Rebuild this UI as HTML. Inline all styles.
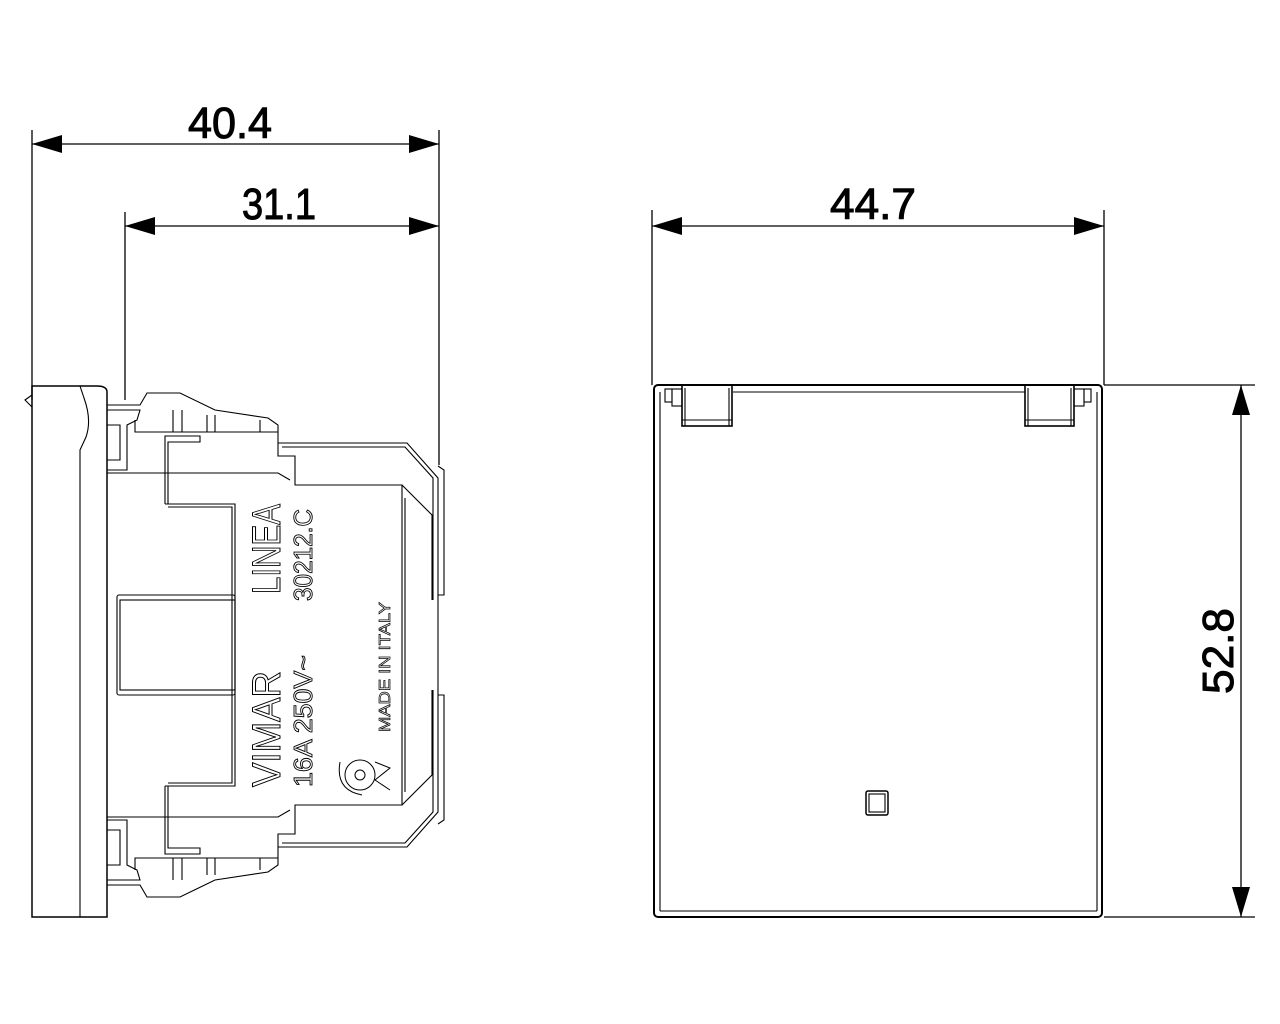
<!DOCTYPE html>
<html><head><meta charset="utf-8"><style>
html,body{margin:0;padding:0;background:#fff;}
svg{display:block;}
text{font-family:"Liberation Sans",sans-serif;}
</style></head><body>
<svg width="1280" height="1024" viewBox="0 0 1280 1024" xmlns="http://www.w3.org/2000/svg">
<g stroke="#000" stroke-width="1.3" fill="none">
 <line x1="32" y1="130" x2="32" y2="400"/>
 <line x1="439" y1="130" x2="439" y2="465"/>
 <line x1="32" y1="144" x2="439" y2="144"/>
 <line x1="125" y1="212" x2="125" y2="400"/>
 <line x1="125" y1="226" x2="439" y2="226"/>
 <line x1="652" y1="210" x2="652" y2="385"/>
 <line x1="1104" y1="210" x2="1104" y2="385"/>
 <line x1="652" y1="226" x2="1104" y2="226"/>
 <line x1="1104" y1="385" x2="1255" y2="385"/>
 <line x1="1104" y1="917" x2="1255" y2="917"/>
 <line x1="1241" y1="385" x2="1241" y2="917"/>
</g>
<g fill="#000">
 <polygon points="32,144 62,135 62,153"/>
 <polygon points="439,144 409,135 409,153"/>
 <polygon points="125,226 155,217 155,235"/>
 <polygon points="439,226 409,217 409,235"/>
 <polygon points="652,226 682,217 682,235"/>
 <polygon points="1104,226 1074,217 1074,235"/>
 <polygon points="1241,385 1232,415 1250,415"/>
 <polygon points="1241,917 1232,887 1250,887"/>
</g>
<g font-size="44" fill="#000" stroke="#000" stroke-width="1" text-anchor="middle">
 <text x="230" y="138" textLength="84" lengthAdjust="spacingAndGlyphs">40.4</text>
 <text x="279" y="219" textLength="74" lengthAdjust="spacingAndGlyphs">31.1</text>
 <text x="873" y="219" textLength="86" lengthAdjust="spacingAndGlyphs">44.7</text>
 <text transform="translate(1233,651) rotate(-90)" textLength="86" lengthAdjust="spacingAndGlyphs">52.8</text>
</g>

<g stroke="#000" fill="none" stroke-width="1.1">
 <rect x="654" y="385" width="448" height="532" rx="4" stroke-width="2"/>
 <line x1="660" y1="392" x2="660" y2="911"/>
 <line x1="1097" y1="392" x2="1097" y2="911"/>
 <line x1="660" y1="911" x2="1097" y2="911"/>
 <line x1="733" y1="392" x2="1025" y2="392"/>
 <rect x="682" y="385" width="50" height="41" stroke-width="1.6"/>
 <line x1="685" y1="388" x2="685" y2="426"/><line x1="729" y1="388" x2="729" y2="426"/>
 <line x1="682" y1="420" x2="732" y2="420"/>
 <rect x="1025" y="385" width="49" height="41" stroke-width="1.6"/>
 <line x1="1028" y1="388" x2="1028" y2="426"/><line x1="1071" y1="388" x2="1071" y2="426"/>
 <line x1="1025" y1="420" x2="1074" y2="420"/>
 <rect x="672" y="389" width="10" height="17"/><rect x="665" y="389" width="7" height="13"/>
 <rect x="1074" y="389" width="10" height="17"/><rect x="1084" y="389" width="7" height="13"/>
 <rect x="866" y="791" width="22" height="24" rx="2" stroke-width="1.5"/>
 <rect x="869" y="794" width="16" height="18"/>
</g>

<g stroke="#000" fill="none" stroke-width="1.1">
 <path d="M32,386 L97,386 Q107,386 107,392 L107,917 L32,917 Z" stroke-width="1.5"/>
 <path d="M80,917 L80,450 L86,437 Q92,420 84,398 L80,386"/>
 <path d="M32,395 L25,400 L32,407"/>
 <g id="half">
  <path d="M107,405 L140,405 L147,393 L180,393 L215,410 L268,418 L278,425 L278,456 L295,456 L295,485 L402,485 L402,645"/>
  <path d="M107,410 L140,410 L137,420 L127,425 L127,470 L107,470"/>
  <path d="M107,425 L120,425 L120,460 L107,460"/>
  <path d="M135,420 L135,432 L278,432"/>
  <path d="M165,504 L165,436 L200,436 L200,442 L168,442 L168,504"/>
  <path d="M165,504 L235,504 L235,645"/>
  <path d="M168,507 L232,507 L232,645"/>
  <path d="M107,473 L278,473 L290,480"/>
  <path d="M278,443 L407,443 L438,478 L438,645"/>
  <path d="M282,447 L405,447 L433,478 L433,600"/>
  <path d="M402,485 L432,515 L432,600"/>
  <path d="M405,498 L405,645"/>
  <path d="M438,466 L444,470 L444,595 L438,595"/>
  <path d="M173,410 L173,432 M182,410 L182,432 M207,415 L207,432 M215,415 L215,432 M260,420 L260,432"/>
 </g>
 <use href="#half" transform="translate(0,1290) scale(1,-1)"/>
 <rect x="117" y="595" width="118" height="100" rx="2"/>
 <rect x="120" y="600" width="115" height="90"/>
</g>
<g fill="#fff" stroke="#000" stroke-width="1" font-size="40" text-anchor="middle">
 <text transform="translate(280,729) rotate(-90)" textLength="116" lengthAdjust="spacingAndGlyphs">VIMAR</text>
 <text transform="translate(280,549) rotate(-90)" textLength="90" lengthAdjust="spacingAndGlyphs">LINEA</text>
</g>
<g fill="#fff" stroke="#000" stroke-width="0.9" font-size="26" text-anchor="middle">
 <text transform="translate(312,721) rotate(-90)" textLength="132" lengthAdjust="spacingAndGlyphs">16A 250V~</text>
 <text transform="translate(312,555) rotate(-90)" textLength="92" lengthAdjust="spacingAndGlyphs">30212.C</text>
</g>
<g fill="#fff" stroke="#000" stroke-width="0.7" font-size="16" text-anchor="middle">
 <text transform="translate(390,667) rotate(-90)" textLength="130" lengthAdjust="spacingAndGlyphs">MADE IN ITALY</text>
</g>
<g stroke="#000" fill="none" stroke-width="1">
 <circle cx="360" cy="775" r="15"/>
 <circle cx="360" cy="775" r="5"/>
 <path d="M340,762 Q335,790 362,795 M375,762 L390,768 L375,780 L390,790"/>
</g>
</svg>
</body></html>
